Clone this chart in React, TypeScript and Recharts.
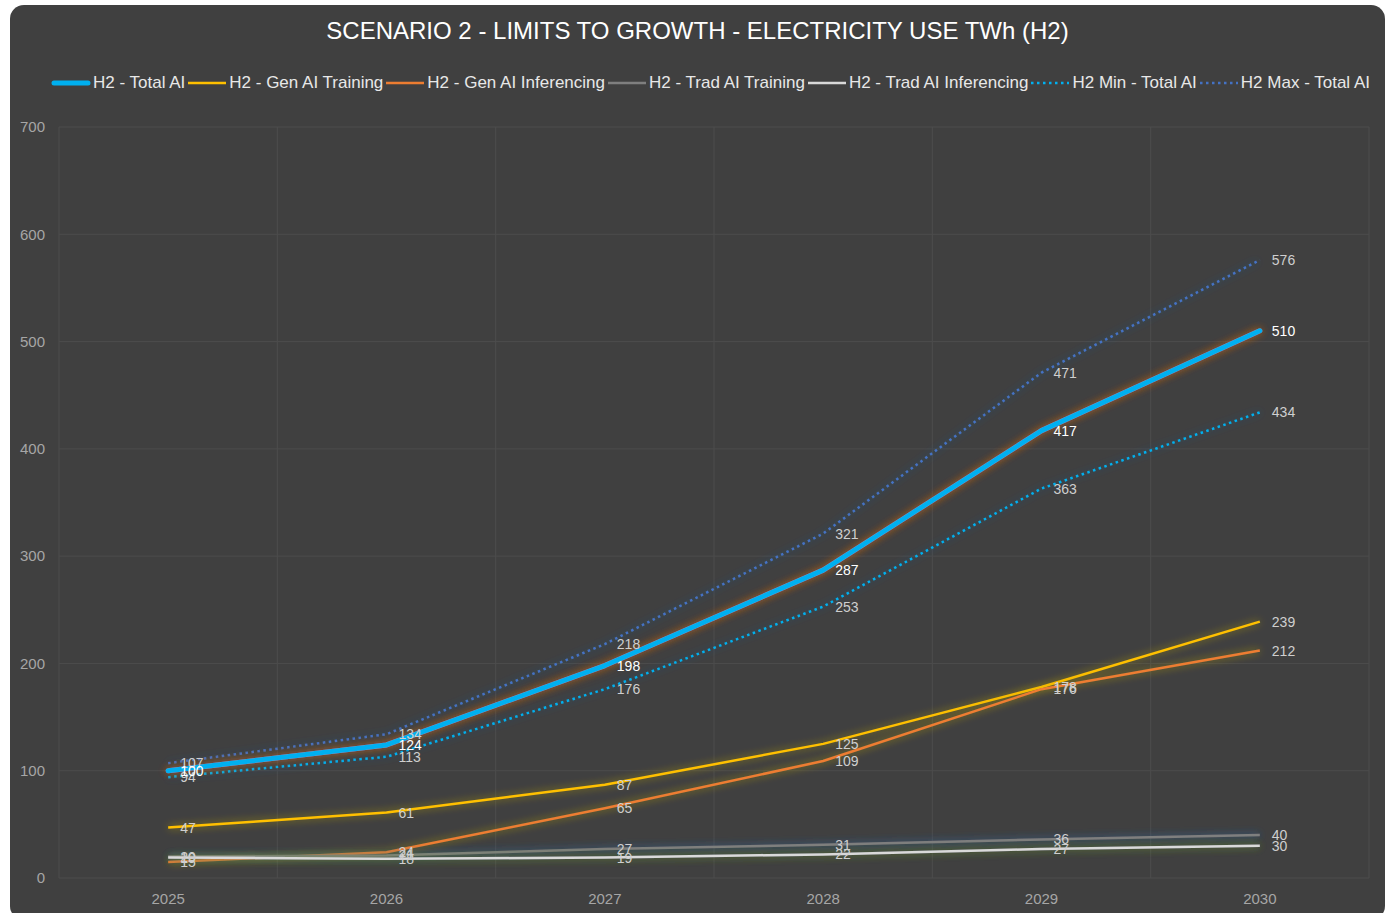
import React from 'react';
import { LineChart, Line, XAxis, YAxis, CartesianGrid, Legend, LabelList } from 'recharts';

const years = ['2025', '2026', '2027', '2028', '2029', '2030'];
const totalAI = [100, 124, 198, 287, 417, 510];
const genTraining = [47, 61, 87, 125, 178, 239];
const genInferencing = [15, 24, 65, 109, 176, 212];
const tradTraining = [20, 21, 27, 31, 36, 40];
const tradInferencing = [19, 18, 19, 22, 27, 30];
const minTotal = [94, 113, 176, 253, 363, 434];
const maxTotal = [107, 134, 218, 321, 471, 576];
const yTicks = [0, 100, 200, 300, 400, 500, 600, 700];

const data = years.map((y, i) => ({
  year: y,
  total: totalAI[i],
  genT: genTraining[i],
  genI: genInferencing[i],
  tradT: tradTraining[i],
  tradI: tradInferencing[i],
  min: minTotal[i],
  max: maxTotal[i],
}));

const FONT = '"Liberation Sans", Arial, sans-serif';

const series = [
  { key: 'total', name: 'H2 - Total AI', color: '#00B0F0', width: 5, dash: undefined, glow: 'glowOrange' },
  { key: 'genT', name: 'H2 - Gen AI Training', color: '#FFC000', width: 2.5, dash: undefined, glow: 'glowYellow' },
  { key: 'genI', name: 'H2 - Gen AI Inferencing', color: '#ED7D31', width: 2.5, dash: undefined, glow: 'glowYellow' },
  { key: 'tradT', name: 'H2 - Trad AI Training', color: '#7F7F7F', width: 2.5, dash: undefined, glow: 'glowBlue' },
  { key: 'tradI', name: 'H2 - Trad AI Inferencing', color: '#D9D9D9', width: 2.5, dash: undefined, glow: 'glowGreen' },
  { key: 'min', name: 'H2 Min - Total AI', color: '#00B0F0', width: 2.5, dash: '2.5 3.5', glow: 'glowBlue' },
  { key: 'max', name: 'H2 Max - Total AI', color: '#4472C4', width: 2.5, dash: '2.5 3.5', glow: 'glowBlue' },
];

const drawOrder = ['genT', 'genI', 'tradT', 'tradI', 'min', 'max', 'total'];

const GlowDefs = () => (
  <svg width={0} height={0} style={{ position: 'absolute' }}>
    <defs>
      {[
        ['glowOrange', '#C0631F', 0.55],
        ['glowYellow', '#B8A020', 0.45],
        ['glowBlue', '#3A6FB0', 0.45],
        ['glowGreen', '#6E9A3A', 0.5],
      ].map(([id, c, o]) => (
        <filter key={id as string} id={id as string} filterUnits="userSpaceOnUse" x={0} y={0} width={1500} height={1000}>
          <feGaussianBlur in="SourceAlpha" stdDeviation={4} result="blur" />
          <feFlood floodColor={c as string} floodOpacity={o as number} />
          <feComposite in2="blur" operator="in" result="glow" />
          <feMerge>
            <feMergeNode in="glow" />
            <feMergeNode in="glow" />
            <feMergeNode in="SourceGraphic" />
          </feMerge>
        </filter>
      ))}
    </defs>
  </svg>
);

const LegendContent = () => (
  <div style={{ height: 54, position: 'relative', left: 22, whiteSpace: 'nowrap', display: 'flex', justifyContent: 'center', alignItems: 'flex-start', fontFamily: FONT, fontSize: 17, color: '#E8E8E8' }}>
    {series.map((s) => (
      <div key={s.key} style={{ display: 'flex', flexShrink: 0, alignItems: 'center', marginRight: 2, height: 20 }}>
        <svg width={40} height={10} style={{ marginRight: 2, flexShrink: 0 }}>
          <line x1={s.width > 3 ? 3 : 1} y1={5} x2={s.width > 3 ? 37 : 39} y2={5} stroke={s.color} strokeWidth={s.width > 3 ? 5 : 2.5}
            strokeDasharray={s.dash} strokeLinecap={s.width > 3 ? 'round' : 'butt'} />
        </svg>
        <span>{s.name}</span>
      </div>
    ))}
  </div>
);

export default function App() {
  return (
    <div style={{ position: 'absolute', left: 10, top: 5, width: 1375, height: 915, background: '#404040', borderRadius: 14, overflow: 'hidden' }}>
      <GlowDefs />
      <div style={{ position: 'absolute', top: 12, left: 0, width: 1375, textAlign: 'center', color: '#FFFFFF', fontFamily: FONT, fontSize: 24 }}>
        SCENARIO 2 - LIMITS TO GROWTH - ELECTRICITY USE TWh (H2)
      </div>
      <LineChart width={1375} height={915} data={data} margin={{ top: 68, right: 16, bottom: 12, left: 0 }}>
        <CartesianGrid stroke="#4C4C4C" strokeWidth={1}
          verticalCoordinatesGenerator={({ offset }: any) => years.map((_, i) => offset.left + (i * offset.width) / years.length).concat([offset.left + offset.width])} />
        <XAxis dataKey="year" scale="band" axisLine={false} tickLine={false} height={30} tickMargin={9}
          tick={{ fill: '#A6A6A6', fontSize: 15, fontFamily: FONT }} />
        <YAxis domain={[0, 700]} ticks={yTicks} width={49} axisLine={false} tickLine={false} tickMargin={8}
          tick={{ fill: '#A6A6A6', fontSize: 15, fontFamily: FONT }} />
        <Legend verticalAlign="top" align="center" content={<LegendContent />} />
        {drawOrder.map((k) => {
          const s = series.find((x) => x.key === k)!;
          const isTotal = k === 'total';
          return (
            <Line key={k} dataKey={k} name={s.name} type="linear" stroke={s.color} strokeWidth={s.width}
              strokeDasharray={s.dash} dot={false} activeDot={false} isAnimationActive={false}
              filter={`url(#${s.glow})`} strokeLinecap={isTotal ? 'round' : 'butt'} strokeLinejoin="round">
              <LabelList dataKey={k} position="right" offset={12}
                style={{ fill: isTotal ? '#FFFFFF' : '#CFCFCF', fontSize: 14, fontFamily: FONT, fontWeight: 400 }} />
            </Line>
          );
        })}
      </LineChart>
    </div>
  );
}
